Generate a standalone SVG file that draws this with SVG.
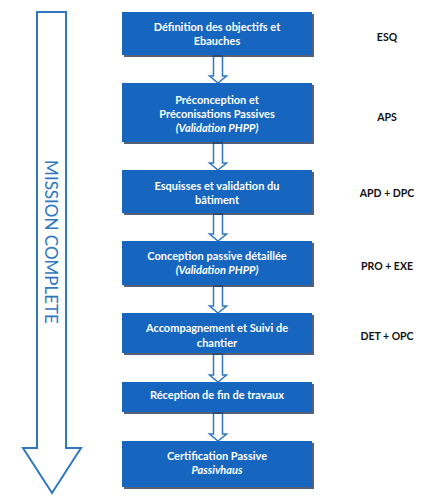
<svg xmlns="http://www.w3.org/2000/svg" width="433" height="500" viewBox="0 0 433 500">
<defs>
<style>
.box{fill:#1666c0;}
.shadow{fill:#2b3a55;opacity:0.8;}
.bt{font-family:Lato,"Liberation Sans",sans-serif;font-weight:bold;font-size:11px;fill:#ffffff;text-anchor:middle;}
.it{font-style:italic;}
.lbl{font-family:Lato,"Liberation Sans",sans-serif;font-weight:bold;font-size:10.5px;fill:#111111;text-anchor:middle;}
.conn{fill:#ffffff;stroke:#2f78c0;stroke-width:1.5;stroke-linejoin:miter;}
.big{fill:#ffffff;stroke:#2f78c0;stroke-width:2;}
.mission{font-family:Lato,"Liberation Sans",sans-serif;font-size:17px;fill:#2f78c0;text-anchor:middle;}
</style>
</defs>
<rect width="433" height="500" fill="#ffffff"/>
<g id="mission-arrow">
<path class="big" d="M37,12 H66 V448 H81 L52,493 L23,448 H37 Z"/>
<text class="mission" transform="translate(45,242) rotate(90)">MISSION COMPLETE</text>
</g>
<g id="connectors">
<path class="conn" d="M213.5,56 H222.5 V76 H226.5 L218,83 L209.5,76 H213.5 Z"/>
<path class="conn" d="M213.5,143 H222.5 V163 H226.5 L218,170 L209.5,163 H213.5 Z"/>
<path class="conn" d="M213.5,214 H222.5 V234 H226.5 L218,241 L209.5,234 H213.5 Z"/>
<path class="conn" d="M213.5,286 H222.5 V306 H226.5 L218,313 L209.5,306 H213.5 Z"/>
<path class="conn" d="M213.5,354 H222.5 V375 H226.5 L218,382 L209.5,375 H213.5 Z"/>
<path class="conn" d="M213.5,413 H222.5 V434 H226.5 L218,441 L209.5,434 H213.5 Z"/>
</g>
<g id="n1">
<rect class="shadow" x="124" y="14" width="190" height="43"/>
<rect class="box" x="122" y="12" width="190" height="43"/>
<text class="bt" x="217" y="31">Définition des objectifs et</text>
<text class="bt" x="217" y="45">Ebauches</text>
</g>
<g id="n2">
<rect class="shadow" x="124" y="85" width="190" height="59"/>
<rect class="box" x="122" y="83" width="190" height="59"/>
<text class="bt" x="217" y="104">Préconception et</text>
<text class="bt" x="217" y="118">Préconisations Passives</text>
<text class="bt it" x="217" y="132">(Validation PHPP)</text>
</g>
<g id="n3">
<rect class="shadow" x="124" y="172" width="190" height="43"/>
<rect class="box" x="122" y="170" width="190" height="43"/>
<text class="bt" x="217" y="189.5">Esquisses et validation du</text>
<text class="bt" x="217" y="204">bâtiment</text>
</g>
<g id="n4">
<rect class="shadow" x="124" y="243" width="190" height="44"/>
<rect class="box" x="122" y="241" width="190" height="44"/>
<text class="bt" x="217" y="259.5">Conception passive détaillée</text>
<text class="bt it" x="217" y="274">(Validation PHPP)</text>
</g>
<g id="n5">
<rect class="shadow" x="124" y="315" width="190" height="40"/>
<rect class="box" x="122" y="313" width="190" height="40"/>
<text class="bt" x="217" y="332">Accompagnement et Suivi de</text>
<text class="bt" x="217" y="346.5">chantier</text>
</g>
<g id="n6">
<rect class="shadow" x="124" y="384" width="190" height="30"/>
<rect class="box" x="122" y="382" width="190" height="30"/>
<text class="bt" x="217" y="399">Réception de fin de travaux</text>
</g>
<g id="n7">
<rect class="shadow" x="124" y="443" width="190" height="46"/>
<rect class="box" x="122" y="441" width="190" height="46"/>
<text class="bt" x="217" y="459.5">Certification Passive</text>
<text class="bt it" x="217" y="474">Passivhaus</text>
</g>
<g id="labels">
<text class="lbl" x="387" y="41">ESQ</text>
<text class="lbl" x="387" y="121">APS</text>
<text class="lbl" x="387" y="197">APD + DPC</text>
<text class="lbl" x="387" y="270">PRO + EXE</text>
<text class="lbl" x="387" y="340">DET + OPC</text>
</g>
</svg>
